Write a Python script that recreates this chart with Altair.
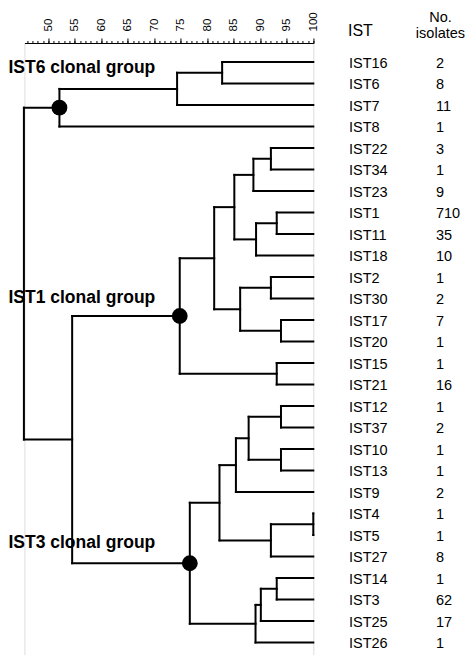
import altair as alt
import pandas as pd

# ---- data -------------------------------------------------------------
leaves = ["IST16", "IST6", "IST7", "IST8", "IST22", "IST34", "IST23", "IST1",
          "IST11", "IST18", "IST2", "IST30", "IST17", "IST20", "IST15", "IST21",
          "IST12", "IST37", "IST10", "IST13", "IST9", "IST4", "IST5", "IST27",
          "IST14", "IST3", "IST25", "IST26"]
isolates = [2, 8, 11, 1, 3, 1, 9, 710, 35, 10, 1, 2, 7, 1, 1, 16,
            1, 2, 1, 1, 2, 1, 1, 8, 1, 62, 17, 1]

# dendrogram merges: id, left child, right child, similarity (%)
merge_id = ["m1", "m2", "g6", "m3", "m4", "m5", "m6", "m7", "m8", "m9", "m10",
            "m11", "m12", "g1", "m13", "m14", "m15", "m16", "m17", "m18", "m19",
            "m20", "m21", "m22", "g3", "m23", "root"]
merge_left = ["IST16", "m1", "m2", "IST22", "m3", "IST1", "m5", "m4", "IST2",
              "IST17", "m8", "m7", "IST15", "m11", "IST12", "IST10", "m13", "m15",
              "IST4", "m17", "m16", "IST14", "m20", "m21", "m19", "g1", "g6"]
merge_right = ["IST6", "IST7", "IST8", "IST34", "IST23", "IST11", "IST18", "m6",
               "IST30", "IST20", "m9", "m10", "IST21", "m12", "IST37", "IST13",
               "m14", "IST9", "IST5", "IST27", "m18", "IST3", "IST25", "IST26",
               "m22", "g3", "m23"]
merge_sim = [82.8, 74.3, 52.1, 92.0, 88.7, 93.1, 89.2, 85.1, 92.0, 93.9, 86.2,
             81.3, 93.1, 74.8, 93.9, 93.9, 87.8, 85.4, 100.0, 92.0, 82.3,
             93.1, 90.1, 89.1, 76.7, 54.5, 45.4]

clonal_nodes = ["g6", "g1", "g3"]
clonal_labels = ["IST6 clonal group", "IST1 clonal group", "IST3 clonal group"]

major_ticks = [50, 55, 60, 65, 70, 75, 80, 85, 90, 95, 100]
minor_ticks = list(range(46, 101))

# ---- build tree layout ------------------------------------------------
pos_x = {name: 100.0 for name in leaves}
pos_y = {name: float(i) for i, name in enumerate(leaves)}
segs = []
for mid, a, b, s in zip(merge_id, merge_left, merge_right, merge_sim):
    pos_x[mid] = s
    pos_y[mid] = (pos_y[a] + pos_y[b]) / 2
    segs.append({"x": s, "x2": s, "y": pos_y[a], "y2": pos_y[b]})
    for c in (a, b):
        segs.append({"x": s, "x2": pos_x[c], "y": pos_y[c], "y2": pos_y[c]})
seg_df = pd.DataFrame(segs)

circ_df = pd.DataFrame({"x": [pos_x[n] for n in clonal_nodes],
                        "y": [pos_y[n] for n in clonal_nodes],
                        "label": clonal_labels})
leaf_df = pd.DataFrame({"name": leaves, "n": [str(v) for v in isolates],
                        "y": [pos_y[n] for n in leaves]})

FONT = "Liberation Sans"
xscale = alt.Scale(domain=[45.5, 100], nice=False, zero=False)
yscale = alt.Scale(domain=[-0.884, 27.581], nice=False, zero=False, reverse=True)

segments = alt.Chart(seg_df).mark_rule(
    color="black", strokeWidth=2, strokeCap="square"
).encode(
    x=alt.X("x:Q", scale=xscale,
            axis=alt.Axis(orient="top", values=major_ticks, tickSize=5,
                          labelAngle=270, labelAlign="left", labelBaseline="middle",
                          labelFontSize=11.5, labelFont=FONT, labelColor="black",
                          labelPadding=7, domain=False, grid=False, title=None,
                          tickColor="black", tickWidth=1)),
    x2="x2:Q",
    y=alt.Y("y:Q", scale=yscale, axis=None),
    y2="y2:Q",
)

circles = alt.Chart(circ_df).mark_point(
    filled=True, color="black", size=250, opacity=1
).encode(
    x=alt.X("x:Q", scale=xscale,
            axis=alt.Axis(orient="top", values=minor_ticks, tickSize=2.5,
                          labels=False, domain=True, domainColor="black",
                          domainWidth=1, grid=False, title=None,
                          tickColor="black", tickWidth=1)),
    y=alt.Y("y:Q", scale=yscale, axis=None),
)

def group_label(i, dy):
    return alt.Chart(circ_df.iloc[[i]]).mark_text(
        align="left", baseline="alphabetic", font=FONT, fontSize=17.5,
        fontWeight="bold", color="black", dy=dy
    ).encode(x=alt.value(-16), y=alt.Y("y:Q", scale=yscale, axis=None),
             text="label:N")

lab6 = group_label(0, -35)
lab1 = group_label(1, -12.5)
lab3 = group_label(2, -15)

names = alt.Chart(leaf_df).mark_text(
    align="left", baseline="middle", font=FONT, fontSize=14.5, color="black", dy=1.5
).encode(x=alt.value(324.5), y=alt.Y("y:Q", scale=yscale, axis=None), text="name:N")

counts = alt.Chart(leaf_df).mark_text(
    align="left", baseline="middle", font=FONT, fontSize=14.5, color="black", dy=1.5
).encode(x=alt.value(411.5), y=alt.Y("y:Q", scale=yscale, axis=None), text="n:N")

hdr_ist = alt.Chart(pd.DataFrame({"t": ["IST"]})).mark_text(
    align="left", baseline="alphabetic", font=FONT, fontSize=16, color="black"
).encode(x=alt.value(323.5), y=alt.value(-7), text="t:N")
hdr_no = alt.Chart(pd.DataFrame({"t": ["No."]})).mark_text(
    align="center", baseline="alphabetic", font=FONT, fontSize=14.5, color="black"
).encode(x=alt.value(416), y=alt.value(-21.5), text="t:N")
hdr_iso = alt.Chart(pd.DataFrame({"t": ["isolates"]})).mark_text(
    align="center", baseline="alphabetic", font=FONT, fontSize=14.5, color="black"
).encode(x=alt.value(416), y=alt.value(-5.5), text="t:N")

chart = alt.layer(
    segments, circles, lab6, lab1, lab3, names, counts, hdr_ist, hdr_no, hdr_iso
).resolve_scale(x="shared", y="shared").resolve_axis(x="independent").properties(
    width=288.85, height=612,
    autosize=alt.AutoSizeParams(type="none"),
    padding={"left": 16.45, "top": 35, "right": 153.7, "bottom": 0},
).configure_view(stroke=None).configure(background="white")

chart.save("out.html", embed_options={"renderer": "svg", "actions": False})
